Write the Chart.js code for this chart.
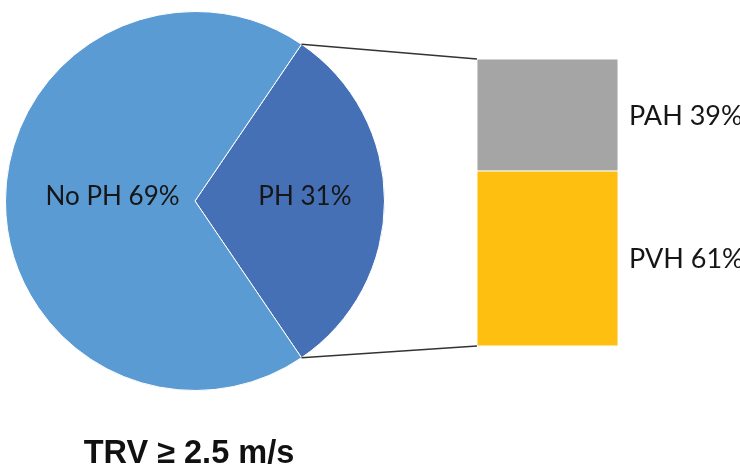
<!DOCTYPE html>
<html>
<head>
<meta charset="utf-8">
<script src="https://cdn.jsdelivr.net/npm/chart.js@4.4.1/dist/chart.umd.min.js"></script>
<style>
  html, body { margin: 0; padding: 0; background: #ffffff; }
  #wrap { position: relative; width: 740px; height: 468px; overflow: hidden; }
  #wrap canvas { position: absolute; left: 0; top: 0; }
</style>
</head>
<body>
<div id="wrap">
  <canvas id="pie" width="740" height="468"></canvas>
  <canvas id="bar" width="740" height="468"></canvas>
</div>
<script>
// Share of patients with and without pulmonary hypertension
const pieLabels = ['PH', 'No PH'];
const pieValues = [31, 69];
const pieColors = ['#4570B6', '#5B9BD4'];

// Breakdown of the PH share
const barLabels = ['PVH', 'PAH'];
const barValues = [61, 39];
const barColors = ['#FEBF10', '#A5A5A5'];

const chartTitle = 'TRV \u2265 2.5 m/s';

const labelFont = 'Lato, "Open Sans", sans-serif';
const textColor = '#161616';

// Rotate so the PH slice is centred on the right-hand side, facing the bar
const phSweep = pieValues[0] / pieValues.reduce((a, b) => a + b, 0) * 360;
const pieRotation = 90 - phSweep / 2;

// Radial position of each slice label, as a fraction of the radius
const pieLabelRadius = [0.58, 0.435];

const pieLabelPlugin = {
  id: 'pieLabels',
  afterDatasetsDraw(chart) {
    const ctx = chart.ctx;
    const meta = chart.getDatasetMeta(0);
    ctx.save();
    ctx.font = '26px ' + labelFont;
    ctx.fillStyle = textColor;
    ctx.textAlign = 'center';
    ctx.textBaseline = 'alphabetic';
    meta.data.forEach((arc, i) => {
      const p = arc.getProps(['x', 'y', 'startAngle', 'endAngle', 'outerRadius'], true);
      const mid = (p.startAngle + p.endAngle) / 2;
      const r = p.outerRadius * pieLabelRadius[i];
      const x = p.x + Math.cos(mid) * r;
      const y = p.y + Math.sin(mid) * r;
      ctx.fillText(pieLabels[i] + ' ' + pieValues[i] + '%', x, y + 4);
    });
    ctx.restore();
  }
};

const titlePlugin = {
  id: 'bottomTitle',
  afterDraw(chart) {
    const ctx = chart.ctx;
    ctx.save();
    ctx.font = 'bold 32.5px "Liberation Sans", Arial, sans-serif';
    ctx.fillStyle = '#111111';
    ctx.textAlign = 'center';
    ctx.textBaseline = 'alphabetic';
    ctx.fillText(chartTitle, 189, 463);
    ctx.restore();
  }
};

const pieChart = new Chart(document.getElementById('pie'), {
  type: 'pie',
  data: {
    labels: pieLabels,
    datasets: [{
      data: pieValues,
      backgroundColor: pieColors,
      borderColor: '#ffffff',
      borderWidth: 1,
      hoverOffset: 0
    }]
  },
  options: {
    responsive: false,
    animation: false,
    events: [],
    rotation: pieRotation,
    layout: { padding: { left: 5, right: 355, top: 11, bottom: 77 } },
    plugins: { legend: { display: false }, tooltip: { enabled: false } }
  },
  plugins: [pieLabelPlugin, titlePlugin]
});

// Lines joining the PH slice to the breakdown bar, plus the bar labels
const barExtrasPlugin = {
  id: 'barExtras',
  afterDatasetsDraw(chart) {
    const ctx = chart.ctx;
    const arc = pieChart.getDatasetMeta(0).data[0];
    const a = arc.getProps(['x', 'y', 'startAngle', 'endAngle', 'outerRadius'], true);
    const bottomSeg = chart.getDatasetMeta(0).data[0];
    const topSeg = chart.getDatasetMeta(chart.data.datasets.length - 1).data[0];
    const left = topSeg.x - topSeg.width / 2;
    const right = topSeg.x + topSeg.width / 2;

    ctx.save();
    ctx.strokeStyle = '#333333';
    ctx.lineWidth = 1.6;
    ctx.beginPath();
    ctx.moveTo(a.x + Math.cos(a.startAngle) * a.outerRadius, a.y + Math.sin(a.startAngle) * a.outerRadius);
    ctx.lineTo(left, topSeg.y);
    ctx.moveTo(a.x + Math.cos(a.endAngle) * a.outerRadius, a.y + Math.sin(a.endAngle) * a.outerRadius);
    ctx.lineTo(left, bottomSeg.base);
    ctx.stroke();

    ctx.font = '27px ' + labelFont;
    ctx.fillStyle = textColor;
    ctx.textAlign = 'left';
    ctx.textBaseline = 'middle';
    chart.data.datasets.forEach((ds, i) => {
      const seg = chart.getDatasetMeta(i).data[0];
      ctx.fillText(barLabels[i] + ' ' + barValues[i] + '%', right + 11, (seg.y + seg.base) / 2 + 1);
    });
    ctx.restore();
  }
};

new Chart(document.getElementById('bar'), {
  type: 'bar',
  data: {
    labels: ['PH'],
    datasets: barLabels.map((name, i) => ({
      label: name,
      data: [barValues[i]],
      backgroundColor: barColors[i],
      borderColor: '#ffffff',
      borderWidth: 0.8,
      borderSkipped: false,
      barPercentage: 1,
      categoryPercentage: 1
    }))
  },
  options: {
    responsive: false,
    animation: false,
    events: [],
    layout: { padding: { left: 477, right: 122, top: 59, bottom: 122 } },
    scales: {
      x: { display: false, stacked: true },
      y: { display: false, stacked: true, min: 0, max: 100 }
    },
    plugins: { legend: { display: false }, tooltip: { enabled: false } }
  },
  plugins: [barExtrasPlugin]
});
</script>
</body>
</html>
